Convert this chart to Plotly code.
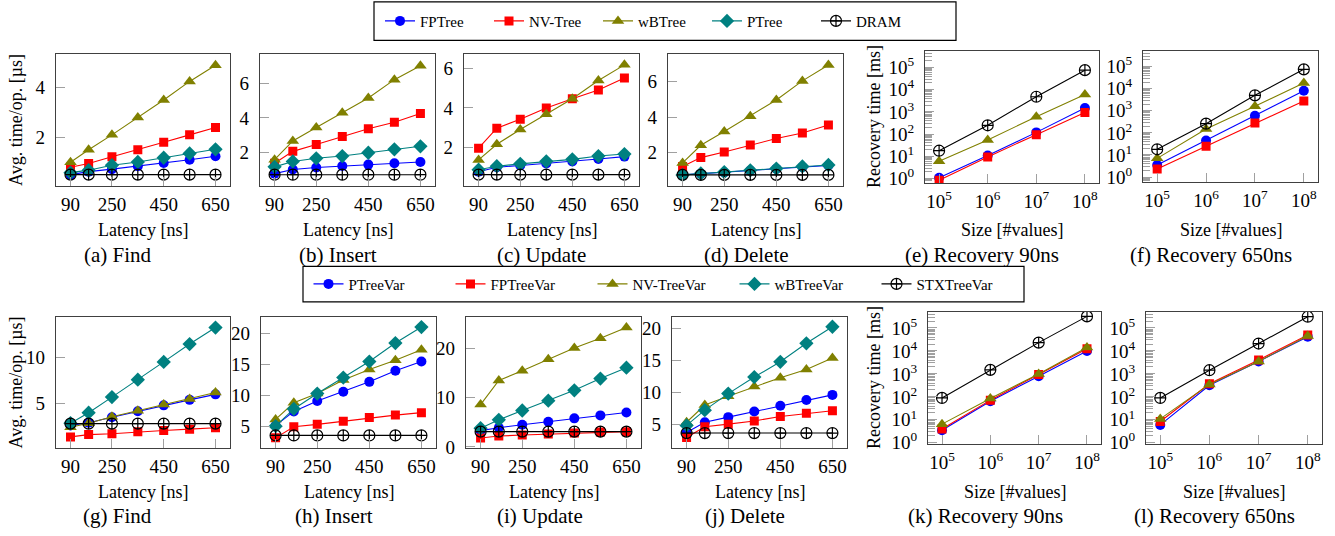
import plotly.graph_objects as go

W, H = 1335, 536

# ---------------- data ----------------
LAT = [90, 160, 250, 350, 450, 550, 650]
SIZES = [1e5, 1e6, 1e7, 1e8]
LAT_TICKS = [90, 250, 450, 650]
LAT_TICKTEXT = ["90", "250", "450", "650"]
SIZE_TICKS = [1e5, 1e6, 1e7, 1e8]
SIZE_TICKTEXT = ["10<sup>5</sup>", "10<sup>6</sup>", "10<sup>7</sup>", "10<sup>8</sup>"]
LOG_YTICKS = [1, 10, 100, 1e3, 1e4, 1e5]
LOG_YTICKTEXT = ["10<sup>0</sup>", "10<sup>1</sup>", "10<sup>2</sup>",
                 "10<sup>3</sup>", "10<sup>4</sup>", "10<sup>5</sup>"]

TOP_NAMES = ["FPTree", "NV-Tree", "wBTree", "PTree", "DRAM"]
BOT_NAMES = ["PTreeVar", "FPTreeVar", "NV-TreeVar", "wBTreeVar", "STXTreeVar"]

# (a) Find
find_fptree = [0.50, 0.62, 0.72, 0.84, 0.97, 1.10, 1.24]
find_nvtree = [0.80, 0.95, 1.22, 1.50, 1.80, 2.10, 2.40]
find_wbtree = [1.00, 1.50, 2.10, 2.80, 3.50, 4.25, 4.90]
find_ptree = [0.58, 0.68, 0.88, 1.01, 1.18, 1.35, 1.52]
find_dram = [0.50, 0.50, 0.50, 0.50, 0.50, 0.50, 0.50]
# (b) Insert
ins_fptree = [0.80, 1.04, 1.15, 1.24, 1.32, 1.40, 1.47]
ins_nvtree = [1.40, 2.08, 2.47, 2.94, 3.38, 3.75, 4.26]
ins_wbtree = [1.60, 2.68, 3.45, 4.30, 5.15, 6.20, 7.00]
ins_ptree = [1.19, 1.50, 1.68, 1.81, 2.00, 2.20, 2.37]
ins_dram = [0.74, 0.74, 0.74, 0.74, 0.74, 0.74, 0.74]
# (c) Update
upd_fptree = [0.75, 0.98, 1.07, 1.17, 1.27, 1.40, 1.52]
upd_nvtree = [1.95, 2.97, 3.43, 4.00, 4.47, 4.92, 5.53]
upd_wbtree = [1.35, 2.15, 2.90, 3.68, 4.47, 5.40, 6.20]
upd_ptree = [0.85, 1.03, 1.15, 1.28, 1.38, 1.55, 1.65]
upd_dram = [0.60, 0.60, 0.60, 0.60, 0.60, 0.60, 0.60]
# (d) Delete
del_fptree = [0.72, 0.78, 0.86, 0.97, 1.07, 1.17, 1.25]
del_nvtree = [1.20, 1.70, 2.02, 2.42, 2.78, 3.10, 3.55]
del_wbtree = [1.40, 2.40, 3.18, 4.05, 4.97, 6.05, 6.95]
del_ptree = [0.72, 0.80, 0.88, 0.98, 1.08, 1.20, 1.28]
del_dram = [0.72, 0.72, 0.72, 0.72, 0.72, 0.72, 0.72]
# (e) Recovery 90ns
rec90_fptree = [1.1, 11, 120, 1500]
rec90_nvtree = [0.85, 9.5, 95, 950]
rec90_wbtree = [6, 55, 600, 6000]
rec90_dram = [18, 250, 4800, 75000]
# (f) Recovery 650ns
rec650_fptree = [3.5, 45, 600, 8000]
rec650_nvtree = [2.3, 25, 280, 2800]
rec650_wbtree = [7, 150, 1600, 18000]
rec650_dram = [18, 260, 5000, 75000]

# (g) Find (Var)
vfind_ptree = [2.60, 2.90, 3.50, 4.15, 4.80, 5.40, 6.00]
vfind_fptree = [1.35, 1.60, 1.70, 1.90, 2.05, 2.20, 2.35]
vfind_nvtree = [2.40, 2.85, 3.55, 4.20, 4.90, 5.50, 6.20]
vfind_wbtree = [2.85, 4.00, 5.70, 7.60, 9.55, 11.50, 13.30]
vfind_stx = [2.80, 2.80, 2.80, 2.80, 2.80, 2.80, 2.80]
# (h) Insert (Var)
vins_ptree = [5.1, 7.4, 9.1, 10.6, 12.2, 14.0, 15.5]
vins_fptree = [3.1, 4.9, 5.3, 5.8, 6.4, 6.8, 7.2]
vins_nvtree = [6.1, 8.8, 10.3, 12.5, 14.2, 15.7, 17.4]
vins_wbtree = [5.0, 7.8, 10.3, 12.9, 15.5, 18.5, 21.1]
vins_stx = [3.5, 3.5, 3.5, 3.5, 3.5, 3.5, 3.5]
# (i) Update (Var)
vupd_ptree = [3.3, 3.9, 4.5, 5.1, 5.8, 6.4, 7.0]
vupd_fptree = [1.8, 2.2, 2.4, 2.6, 2.8, 3.0, 3.1]
vupd_nvtree = [8.6, 13.5, 15.5, 17.8, 20.1, 22.1, 24.3]
vupd_wbtree = [3.8, 5.5, 7.4, 9.4, 11.5, 13.9, 16.1]
vupd_stx = [3.1, 3.1, 3.1, 3.1, 3.1, 3.1, 3.1]
# (j) Delete (Var)
vdel_ptree = [3.7, 5.3, 6.1, 7.0, 7.9, 8.8, 9.6]
vdel_fptree = [2.9, 4.6, 5.0, 5.5, 6.2, 6.7, 7.1]
vdel_nvtree = [5.3, 8.0, 9.4, 10.9, 12.3, 13.6, 15.4]
vdel_wbtree = [4.8, 7.2, 9.8, 12.4, 14.8, 17.7, 20.3]
vdel_stx = [3.6, 3.6, 3.6, 3.6, 3.6, 3.6, 3.6]
# (k) Recovery 90ns (Var)
vrec90_ptree = [3.5, 65, 800, 10000]
vrec90_fptree = [4, 72, 950, 12500]
vrec90_nvtree = [6.5, 85, 1000, 14000]
vrec90_stx = [90, 1500, 23000, 320000]
# (l) Recovery 650ns (Var)
vrec650_ptree = [6, 320, 3500, 42000]
vrec650_fptree = [8.5, 370, 4000, 50000]
vrec650_nvtree = [11, 350, 3500, 45000]
vrec650_stx = [90, 1450, 21000, 310000]

# ---------------- styles ----------------
FONT = "Liberation Serif"
STYLES = [
    dict(color="#0000ff", symbol="circle", size=10),
    dict(color="#ff0000", symbol="square", size=9),
    dict(color="#808000", symbol="triangle-up", size=11),
    dict(color="#008080", symbol="diamond", size=11),
    dict(color="#000000", symbol="circle-cross-open", size=11),
]

panels = [
    (dict(enumerate([find_fptree, find_nvtree, find_wbtree, find_ptree, find_dram])), "lat",
     (56, 55, 230, 189), [0.05, 5.35], [2, 4], "(a) Find", 118, "Avg. time/op. [µs]"),
    (dict(enumerate([ins_fptree, ins_nvtree, ins_wbtree, ins_ptree, ins_dram])), "lat",
     (260, 55, 435, 189), [0.1, 7.67], [2, 4, 6], "(b) Insert", 338, None),
    (dict(enumerate([upd_fptree, upd_nvtree, upd_wbtree, upd_ptree, upd_dram])), "lat",
     (464, 55, 639, 189), [0.03, 6.75], [0, 2, 4, 6], "(c) Update", 541, None),
    (dict(enumerate([del_fptree, del_nvtree, del_wbtree, del_ptree, del_dram])), "lat",
     (668, 55, 843, 189), [0.1, 7.57], [2, 4, 6], "(d) Delete", 746, None),
    ({0: rec90_fptree, 1: rec90_nvtree, 2: rec90_wbtree, 4: rec90_dram}, "size",
     (925, 52, 1099, 186), [-0.19, 5.73], None, "(e) Recovery 90ns", 982, "Recovery time [ms]"),
    ({0: rec650_fptree, 1: rec650_nvtree, 2: rec650_wbtree, 4: rec650_dram}, "size",
     (1143, 52, 1318, 185), [-0.22, 5.7], None, "(f) Recovery 650ns", 1211, None),
    (dict(enumerate([vfind_ptree, vfind_fptree, vfind_nvtree, vfind_wbtree, vfind_stx])), "lat",
     (56, 322, 230, 456), [0.1, 14.5], [5, 10], "(g) Find", 117, "Avg. time/op. [µs]"),
    (dict(enumerate([vins_ptree, vins_fptree, vins_nvtree, vins_wbtree, vins_stx])), "lat",
     (261, 322, 436, 456), [1.4, 22.8], [5, 10, 15, 20], "(h) Insert", 334, None),
    (dict(enumerate([vupd_ptree, vupd_fptree, vupd_nvtree, vupd_wbtree, vupd_stx])), "lat",
     (466, 322, 641, 456), [-0.3, 26.5], [0, 10, 20], "(i) Update", 540, None),
    (dict(enumerate([vdel_ptree, vdel_fptree, vdel_nvtree, vdel_wbtree, vdel_stx])), "lat",
     (672, 322, 847, 456), [1.2, 21.9], [5, 10, 15, 20], "(j) Delete", 745, None),
    ({0: vrec90_ptree, 1: vrec90_fptree, 2: vrec90_nvtree, 4: vrec90_stx}, "size",
     (928, 317, 1101, 452), [-0.07, 5.71], None, "(k) Recovery 90ns", 985, "Recovery time [ms]"),
    ({0: vrec650_ptree, 1: vrec650_fptree, 2: vrec650_nvtree, 4: vrec650_stx}, "size",
     (1146, 317, 1322, 452), [-0.07, 5.71], None, "(l) Recovery 650ns", 1214, None),
]

fig = go.Figure()
layout = dict(
    width=W, height=H, margin=dict(l=0, r=0, t=0, b=0),
    paper_bgcolor="white", plot_bgcolor="white",
    font=dict(family=FONT, color="black", size=18),
    annotations=[], shapes=[],
)

AX_LINE = "#404040"
TICK_C = "#a0a0a0"
MINOR_LOG = [m * 10 ** e for e in range(-1, 6) for m in range(2, 10)]

for i, (series, xkind, box, yr, yt, cap, capx, ytitle) in enumerate(panels):
    n = i + 1
    sfx = "" if n == 1 else str(n)
    l, t, r, b = box
    xd = [l / W, r / W]
    yd = [1 - b / H, 1 - t / H]
    top_row = i < 6
    names = TOP_NAMES if top_row else BOT_NAMES
    legend_id = "legend" if top_row else "legend2"
    xs = LAT if xkind == "lat" else SIZES
    for k in range(5):
        if k not in series:
            continue
        st = STYLES[k]
        fig.add_trace(go.Scatter(
            x=xs, y=series[k], mode="lines+markers", name=names[k],
            xaxis="x" + sfx, yaxis="y" + sfx,
            line=dict(color=st["color"], width=1.1),
            marker=dict(color=st["color"], symbol=st["symbol"], size=st["size"],
                        line=dict(color=st["color"], width=1.2 if k == 4 else 0)),
            showlegend=(i in (0, 6)), legend=legend_id,
        ))
    xa = dict(domain=xd, anchor="y" + sfx, showline=True, mirror=True, linecolor=AX_LINE,
              linewidth=1.3, showgrid=False, zeroline=False, ticks="inside", ticklen=9,
              tickcolor=TICK_C, tickwidth=1, tickfont=dict(size=19), ticklabelstandoff=1)
    ya = dict(domain=yd, anchor="x" + sfx, showline=True, mirror=True, linecolor=AX_LINE,
              linewidth=1.3, showgrid=False, zeroline=False, ticks="inside", ticklen=9,
              tickcolor=TICK_C, tickwidth=1, tickfont=dict(size=19), ticklabelstandoff=6)
    if xkind == "lat":
        xa.update(range=[34, 706], tickvals=LAT_TICKS, ticktext=LAT_TICKTEXT)
        ya.update(range=yr, tickvals=yt)
        xtitle = "Latency [ns]"
    else:
        xa.update(type="log", range=[4.71, 8.29], tickvals=SIZE_TICKS, ticktext=SIZE_TICKTEXT)
        ya.update(type="log", range=yr, tickvals=LOG_YTICKS, ticktext=LOG_YTICKTEXT,
                  minor=dict(tickvals=MINOR_LOG, ticks="inside", ticklen=7,
                             tickcolor=TICK_C, tickwidth=1, showgrid=False))
        xtitle = "Size [#values]"
    layout["xaxis" + sfx] = xa
    layout["yaxis" + sfx] = ya

    xt_y = 234 if top_row else 500
    cap_y = 259 if top_row else 525
    layout["annotations"].append(dict(
        text=xtitle, x=(l + r) / 2 / W, y=1 - xt_y / H, xref="paper", yref="paper",
        xanchor="center", yanchor="middle", showarrow=False, font=dict(size=18)))
    layout["annotations"].append(dict(
        text=cap, x=capx / W, y=1 - cap_y / H, xref="paper", yref="paper",
        xanchor="center", yanchor="middle", showarrow=False, font=dict(size=21)))
    if ytitle:
        yx = 16 if xkind == "lat" else 874
        layout["annotations"].append(dict(
            text=ytitle, x=yx / W, y=1 - ((t + b) / 2) / H, xref="paper", yref="paper",
            xanchor="center", yanchor="middle", textangle=-90, showarrow=False,
            font=dict(size=18)))

# legend frames
for (x0, y0, x1, y1) in [(374, 2, 956, 41), (303, 271, 1024, 307)]:
    layout["shapes"].append(dict(type="rect", xref="paper", yref="paper",
                                 x0=x0 / W, x1=x1 / W, y0=1 - y1 / H, y1=1 - y0 / H,
                                 line=dict(color="black", width=1.2), fillcolor="white",
                                 layer="below"))

layout["legend"] = dict(orientation="h", x=380 / W, y=1 - 21.5 / H, xanchor="left",
                        yanchor="middle", borderwidth=0, bgcolor="rgba(0,0,0,0)",
                        font=dict(size=15), itemwidth=30, entrywidth=64, tracegroupgap=0)
layout["legend2"] = dict(orientation="h", x=663.5 / W, y=1 - 289 / H, xanchor="center",
                         yanchor="middle", borderwidth=0, bgcolor="rgba(0,0,0,0)",
                         font=dict(size=15), itemwidth=30, entrywidth=97, tracegroupgap=0)

fig.update_layout(**layout)
fig.write_html("out.html")
